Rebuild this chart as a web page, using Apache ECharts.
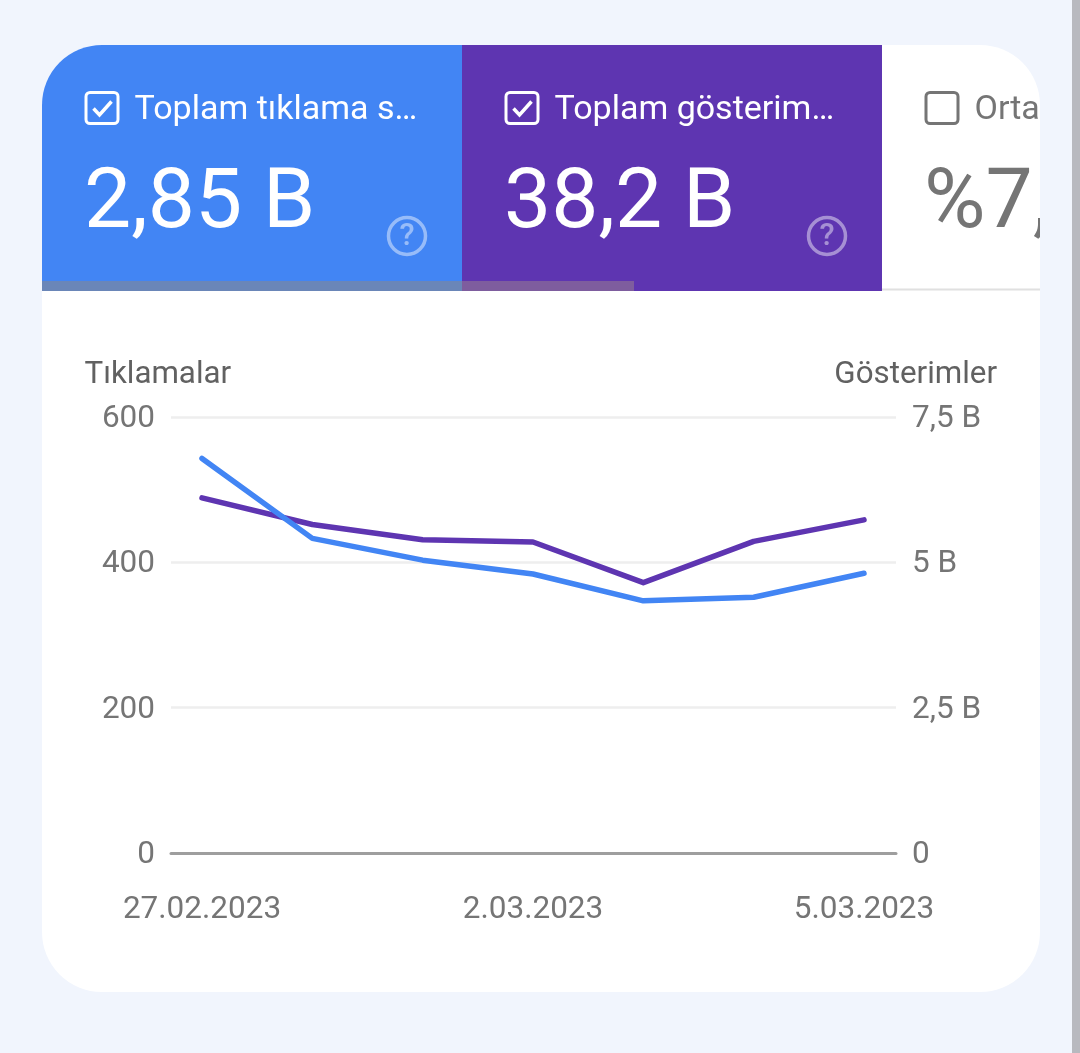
<!DOCTYPE html>
<html><head><meta charset="utf-8">
<style>html,body{margin:0;padding:0;background:#f1f5fd;overflow:hidden}#c{width:1080px;height:1053px}</style>
<script src="https://cdn.jsdelivr.net/npm/echarts@6/dist/echarts.min.js"></script>
</head><body><div id="c"></div>
<script>
const dates = ['27.02.2023','28.02.2023','1.03.2023','2.03.2023','3.03.2023','4.03.2023','5.03.2023'];
const shownDateIndex = [0,3,6];
const clicks = [543,433,403,384,347,352,385];
const impressions = [6.11,5.65,5.39,5.35,4.65,5.36,5.73];
const cardTitles = ['Toplam tıklama s…','Toplam gösterim…','Orta'];
const cardValues = ['2,85 B','38,2 B','%7,'];
const leftName = 'Tıklamalar', rightName = 'Gösterimler';

const FONT='Roboto', GRAY='#757575', BLUE='#4285f4', PURPLE='#5e35b1', PAGE='#f1f5fd';
const T=(x,y,text,size,fill,extra)=>({type:'text',z:20,style:Object.assign({x,y,text,fill,font:`400 ${size}px ${FONT}`,textVerticalAlign:'middle',textBaseline:'middle'},extra||{})});
const R=(x,y,w,h,fill,r,z)=>({type:'rect',z:z===undefined?5:z,shape:{x,y,width:w,height:h,r:r||0},style:{fill}});
function checkbox(x,y,color,checked){
  const a=[{type:'rect',z:20,shape:{x:x,y:y,width:32,height:31,r:4},style:{fill:'none',stroke:color,lineWidth:3}}];
  if(checked)a.push({type:'polyline',z:20,shape:{points:[[x+7.5,y+16],[x+13.5,y+22.5],[x+25.5,y+9]]},style:{fill:'none',stroke:color,lineWidth:3.5}});
  return a;
}
function help(cx,cy){
  return [{type:'circle',z:20,shape:{cx,cy,r:18.5},style:{fill:'none',stroke:'rgba(255,255,255,0.45)',lineWidth:3.5}},
    T(cx,cy+1,'?',31,'rgba(255,255,255,0.45)',{textAlign:'center',font:`500 31px ${FONT}`})];
}
const graphics=[
  R(42,45,998,947,'#ffffff',60,-1),
  R(882,288.5,158,2,'#e0e0e0',0,4),
  R(42,45,420,246,BLUE,[60,0,0,0]),
  R(462,45,420,246,PURPLE),
  R(42,281,420,10,'#6a86b8',0,6),
  R(462,281,172,10,'#7e5d9e',0,6),
  ...checkbox(86,92.5,'#fff',true),
  ...checkbox(506,92.5,'#fff',true),
  ...checkbox(926,92.5,GRAY,false),
  T(134.5,110,cardTitles[0],34,'#fff'),
  T(554.5,110,cardTitles[1],34,'#fff'),
  T(974.5,110,cardTitles[2],34,GRAY),
  T(84,206,cardValues[0],84,'#fff'),
  T(504,206,cardValues[1],84,'#fff'),
  T(924,206,cardValues[2],84,GRAY),
  ...help(407,236),
  ...help(827,236),
  R(1040,80,32,230,PAGE,0,30),
  R(1072,0,8,1053,'#b8b9bf',0,31),
  T(84.5,375,leftName,31.3,'#616161'),
  T(997,375,rightName,31.3,'#616161',{textAlign:'right'})
];
const labelStyle={color:GRAY,fontFamily:FONT,fontSize:31.5};
const tickRich={a:{color:GRAY,fontFamily:FONT,fontSize:31.5,padding:[4,0,0,0]}};
const chart=echarts.init(document.getElementById('c'),null,{renderer:'canvas'});
chart.setOption({
  animation:false,
  backgroundColor:'transparent',
  grid:{left:171,right:184,top:417,bottom:200,containLabel:false},
  xAxis:{type:'value',min:-0.281,max:6.29,
    axisLine:{show:true,onZero:false,lineStyle:{color:'#9e9e9e',width:3}},
    axisTick:{show:false},splitLine:{show:false},
    axisLabel:Object.assign({},labelStyle,{margin:41,customValues:shownDateIndex,formatter:v=>dates[v],hideOverlap:false})},
  yAxis:[
    {type:'value',min:0,max:600,interval:200,axisLine:{show:false},axisTick:{show:false},
      splitLine:{lineStyle:{color:'#eeeeee',width:2.5}},
      axisLabel:Object.assign({},labelStyle,{margin:16,rich:tickRich,formatter:v=>'{a|'+v+'}'})},
    {type:'value',position:'right',min:0,max:7.5,interval:2.5,axisLine:{show:false},axisTick:{show:false},
      splitLine:{show:false},
      axisLabel:Object.assign({},labelStyle,{margin:16,rich:tickRich,formatter:v=>'{a|'+(v===0?'0':String(v).replace('.',',')+' B')+'}'})}
  ],
  series:[
    {name:'Toplam gösterim',type:'line',yAxisIndex:1,showSymbol:false,data:impressions.map((v,i)=>[i,v]),
      lineStyle:{color:PURPLE,width:5.5,cap:'round',join:'round'},itemStyle:{color:PURPLE}},
    {name:'Toplam tıklama',type:'line',yAxisIndex:0,showSymbol:false,data:clicks.map((v,i)=>[i,v]),
      lineStyle:{color:BLUE,width:5.5,cap:'round',join:'round'},itemStyle:{color:BLUE}}
  ],
  graphic:graphics
});
</script></body></html>
